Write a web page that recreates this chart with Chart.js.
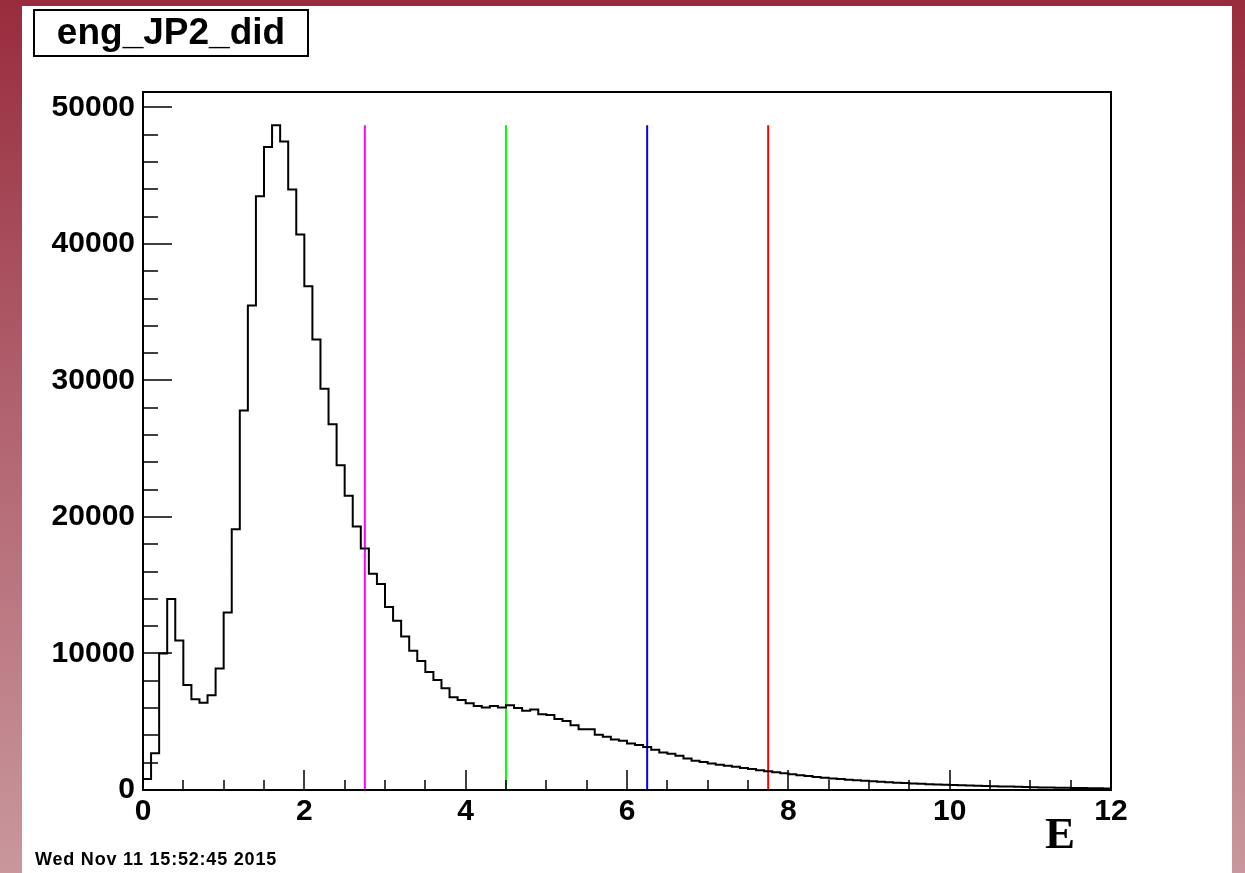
<!DOCTYPE html>
<html lang="en">
<head>
    <meta charset="UTF-8" />
    <script src="https://cdn.jsdelivr.net/npm/chart.js"></script>
    <title>eng_JP2_did</title>
    <style>
        body { margin: 0; width: 1245px; height: 873px; overflow: hidden;
               background: linear-gradient(to bottom, #982c3d 0%, #b0606d 45%, #c9979d 100%); }
        .pad { position: absolute; left: 22px; top: 6px; width: 1210px; height: 867px; background: #fff; }
        .titulo { position: absolute; left: 11px; top: 3px; width: 272px; height: 44px;
                  border: 2px solid #000; font: bold 37px "Liberation Sans", Arial, sans-serif;
                  text-align: center; line-height: 42px; }
        .data { position: absolute; left: 13px; top: 843px; font: bold 18px "Liberation Sans", Arial, sans-serif;
                letter-spacing: 0.8px; }
        .eixoE { position: absolute; left: 1023px; top: 801px; font: bold 45px "Liberation Serif", "Times New Roman", serif; }
        canvas { position: absolute; left: 0; top: 0; }
    </style>
</head>
<body>
<div class="pad">
    <canvas id="myChart" width="1210" height="867"></canvas>
    <div class="titulo">eng_JP2_did</div>
    <div class="data">Wed Nov 11 15:52:45 2015</div>
    <div class="eixoE">E</div>
</div>
<script>
// histogram: 120 bins of 0.1 from 0 to 12
var binWidth = 0.1;
var contagens = [
    800, 2700, 10000, 14000, 10950, 7700, 6650, 6400, 6950, 8900,
    13000, 19100, 27800, 35500, 43500, 47100, 48700, 47500, 44000, 40700,
    36900, 33000, 29400, 26800, 23800, 21550, 19300, 17700, 15850, 15100,
    13400, 12400, 11250, 10200, 9450, 8650, 8050, 7450, 6800, 6600,
    6350, 6150, 6050, 6150, 6050, 6200, 6000, 5800, 5900, 5550,
    5500, 5200, 5050, 4750, 4450, 4450, 4050, 3900, 3700, 3600,
    3400, 3300, 3150, 2950, 2750, 2650, 2500, 2300, 2150, 2050,
    1950, 1850, 1780, 1700, 1620, 1530, 1450, 1380, 1300, 1230,
    1150, 1080, 1020, 960, 900, 850, 800, 760, 720, 680,
    640, 600, 570, 540, 510, 480, 455, 430, 410, 390,
    370, 350, 330, 310, 295, 280, 265, 250, 235, 220,
    205, 190, 180, 170, 160, 150, 140, 130, 120, 110
];
var cortes = [2.75, 4.5, 6.25, 7.75];
var coresCortes = ["#ff00ff", "#00ff00", "#0000ff", "#ff0000"];
var xTicks = [0, 2, 4, 6, 8, 10, 12];
var yTicks = [0, 10000, 20000, 30000, 40000, 50000];

// one point per bin left edge, plus the right edge of the last bin
var pontos = [];
for (var i = 0; i < contagens.length; i++) {
    pontos.push({ x: i * binWidth, y: contagens[i] });
}
pontos.push({ x: contagens.length * binWidth, y: contagens[contagens.length - 1] });

var maximo = Math.max.apply(null, contagens);

var datasets = [{
    data: pontos,
    borderColor: "#000",
    borderWidth: 2,
    stepped: "before",
    pointRadius: 0,
    fill: false
}];
for (var c = 0; c < cortes.length; c++) {
    datasets.push({
        data: [{ x: cortes[c], y: 0 }, { x: cortes[c], y: maximo }],
        borderColor: coresCortes[c],
        borderWidth: 2,
        pointRadius: 0,
        fill: false
    });
}

// ROOT style frame with ticks pointing inward
const moldura = {
    id: "moldura",
    afterDraw(chart) {
        const ctx = chart.ctx;
        const a = chart.chartArea;
        const sx = chart.scales.x, sy = chart.scales.y;
        ctx.save();
        ctx.strokeStyle = "#000";
        ctx.lineWidth = 2;
        ctx.strokeRect(a.left, a.top, a.right - a.left, a.bottom - a.top);
        ctx.beginPath();
        for (var v = 0; v <= 12.0001; v += 0.5) {
            var px = Math.round(sx.getPixelForValue(v));
            var len = (Math.abs(v / 2 - Math.round(v / 2)) < 1e-6) ? 20 : 10;
            ctx.moveTo(px, a.bottom);
            ctx.lineTo(px, a.bottom - len);
        }
        for (var w = 0; w <= 50000; w += 2000) {
            var py = Math.round(sy.getPixelForValue(w));
            var l2 = (w % 10000 === 0) ? 29 : 15;
            ctx.moveTo(a.left, py);
            ctx.lineTo(a.left + l2, py);
        }
        ctx.lineWidth = 1.5;
        ctx.stroke();
        ctx.restore();
    }
};

const fonteTicks = { family: "'Liberation Sans', Arial, sans-serif", size: 30, weight: "bold" };

new Chart(document.getElementById("myChart"), {
    type: "line",
    data: { datasets: datasets },
    options: {
        responsive: false,
        animation: false,
        layout: { padding: { top: 86, right: 121, left: 0, bottom: 0 } },
        plugins: { legend: { display: false }, tooltip: { enabled: false } },
        scales: {
            x: {
                type: "linear",
                min: 0,
                max: 12,
                grid: { display: false, drawTicks: false },
                border: { display: false },
                afterBuildTicks: function (s) { s.ticks = xTicks.map(function (v) { return { value: v }; }); },
                ticks: { autoSkip: false, maxRotation: 0, padding: 4, color: "#000", font: fonteTicks,
                         callback: function (v) { return String(v); } },
                afterFit: function (s) { s.height = 83; }
            },
            y: {
                min: 0,
                max: maximo * 1.05,
                grid: { display: false, drawTicks: false },
                border: { display: false },
                afterBuildTicks: function (s) { s.ticks = yTicks.map(function (v) { return { value: v }; }); },
                ticks: { padding: 8, color: "#000", font: fonteTicks,
                         callback: function (v) { return String(v); } },
                afterFit: function (s) { s.width = 121; }
            }
        }
    },
    plugins: [moldura]
});
</script>
</body>
</html>
